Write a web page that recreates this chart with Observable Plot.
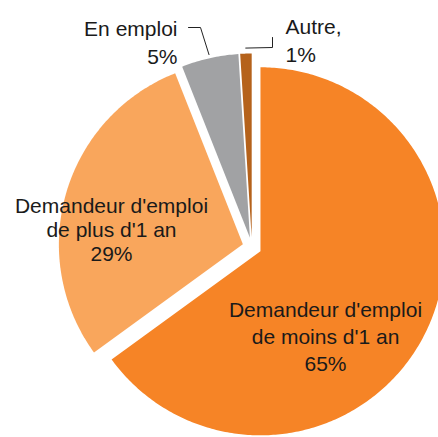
<!DOCTYPE html>
<html>
<head>
<meta charset="utf-8">
<script src="https://cdn.jsdelivr.net/npm/d3@7"></script>
<script src="https://cdn.jsdelivr.net/npm/@observablehq/plot@0.6"></script>
<style>
  html, body { margin: 0; padding: 0; background: #fff; overflow: hidden; }
  svg { overflow: hidden; display: block; }
</style>
</head>
<body>
<div id="chart"></div>
<script>
// ---- data ----
const categories = ["Demandeur d'emploi de moins d'1 an", "Demandeur d'emploi de plus d'1 an", "En emploi", "Autre"];
const shares = [65, 29, 5, 1];
const labelTexts = ["Demandeur d'emploi\nde moins d'1 an\n65%", "Demandeur d'emploi\nde plus d'1 an\n29%", "En emploi\n5%", "Autre,\n1%"];
const colors = ["#F68426", "#F9A65C", "#A1A2A4", "#B5621B"];

// ---- layout (pixels) ----
const W = 438, H = 437;
const CX = 251.5, CY = 246.5, R = 184, EXPLODE_PX = 9.5;
const FONT = "'Liberation Sans', Arial, sans-serif";
const labelLayout = [
  {px: 325, py: 335, anchor: "middle", lh: 1.29},
  {px: 111, py: 229, anchor: "middle", lh: 1.14},
  {px: 177, py: 41, anchor: "end", lh: 1.33},
  {px: 285, py: 39, anchor: "start", lh: 1.33}
];
// leader: elbow & end points (pixels), for slices that have one
const leaderLayout = {2: [[200, 27], [188, 27]], 3: [[272, 47], [272, 37]]};

const toX = px => (px - CX) / R;
const toY = py => (CY - py) / R;
const ex = EXPLODE_PX / R;

const arcs = d3.pie().sort(null).value(d => d)(shares);
const slicePts = [];
const leaderPts = [];
arcs.forEach((a, i) => {
  const mid = (a.startAngle + a.endAngle) / 2;
  const ox = ex * Math.sin(mid), oy = ex * Math.cos(mid);
  slicePts.push({x: ox, y: oy, k: categories[i]});
  const N = Math.max(8, Math.ceil((a.endAngle - a.startAngle) * 80));
  for (let t = 0; t <= N; t++) {
    const ang = a.startAngle + (a.endAngle - a.startAngle) * t / N;
    slicePts.push({x: ox + Math.sin(ang), y: oy + Math.cos(ang), k: categories[i]});
  }
  if (leaderLayout[i]) {
    const rr = i === 3 ? 1.03 : 1.02;
    leaderPts.push({x: ox + rr * Math.sin(mid), y: oy + rr * Math.cos(mid), k: categories[i]});
    leaderLayout[i].forEach(([px, py]) => leaderPts.push({x: toX(px), y: toY(py), k: categories[i]}));
  }
});

const chart = Plot.plot({
  width: W, height: H, margin: 0,
  x: {domain: [toX(0), toX(W)], range: [0, W], axis: null},
  y: {domain: [toY(H), toY(0)], range: [H, 0], axis: null},
  color: {domain: categories, range: colors},
  style: {fontFamily: FONT, background: "#fff"},
  marks: [
    Plot.line(slicePts, {x: "x", y: "y", z: "k", fill: "k", stroke: null, curve: "linear-closed"}),
    Plot.line(leaderPts, {x: "x", y: "y", z: "k", stroke: "#222", strokeWidth: 1}),
    ...labelLayout.map((L, i) => Plot.text([labelTexts[i]], {
      x: () => toX(L.px), y: () => toY(L.py), text: d => d,
      textAnchor: L.anchor, lineAnchor: "middle", lineHeight: L.lh,
      fontSize: 21, fill: "#1a1a1a", fontFamily: FONT
    }))
  ]
});
document.getElementById("chart").appendChild(chart);
</script>
</body>
</html>
